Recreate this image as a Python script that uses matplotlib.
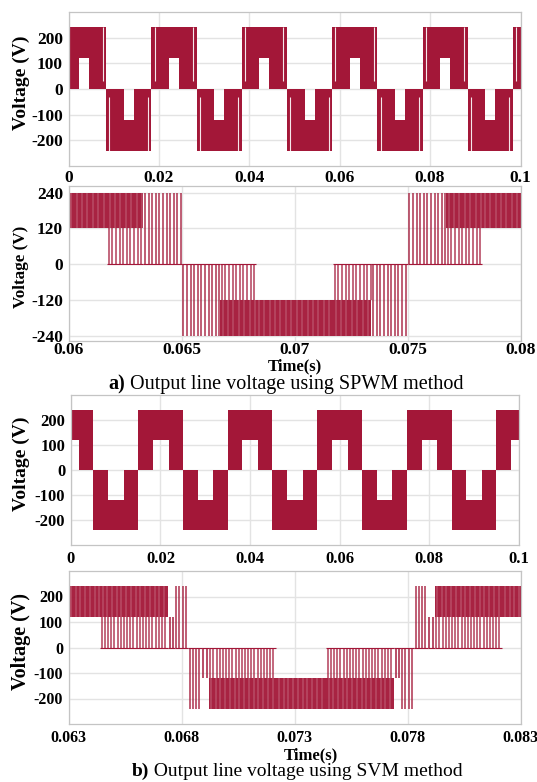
import matplotlib
matplotlib.use("Agg")
import matplotlib.pyplot as plt
import numpy as np

plt.rcParams["font.family"] = ["Liberation Serif", "DejaVu Serif"]

WAVE = "#a31738"
GRID = "#e3e3e3"
SPINE = "#c4c4c4"

# (a) top: SPWM line voltage, 0 - 0.1 s (half-cycle starts and envelope steps)
spwm_pos_starts = [-0.00167, 0.01833, 0.03833, 0.05833, 0.07833, 0.09833]
spwm_neg_starts = [0.00833, 0.02833, 0.04833, 0.06833, 0.08833]
spwm_half_edges = [0.0, 0.0039, 0.0061, 0.01]
spwm_half_kinds = ["full", "upper", "full"]
spwm_white_gaps = [0.0007, 0.0092]

# (a) bottom: SPWM zoom 0.06 - 0.08 s
spwm_zoom_edges = [0.06, 0.0617, 0.0633, 0.065, 0.0667, 0.0683, 0.0717,
                   0.0734, 0.075, 0.0767, 0.0783, 0.08]
spwm_zoom_kinds = ["dense", "split", "sparse", "sparse", "split", "dense",
                   "split", "sparse", "sparse", "split", "dense"]
spwm_zoom_signs = [1, 1, 1, -1, -1, -1, -1, -1, 1, 1, 1]
spwm_pulse_period = 0.00016

# (b) top: SVM line voltage, 0 - 0.1 s
svm_pos_starts = [-0.005, 0.015, 0.035, 0.055, 0.075, 0.095]
svm_neg_starts = [0.005, 0.025, 0.045, 0.065, 0.085]
svm_half_edges = [0.0, 0.0033, 0.0068, 0.01]
svm_half_kinds = ["full", "upper", "full"]

# (b) bottom: SVM zoom 0.063 - 0.083 s
svm_zoom_edges = [0.063, 0.0644, 0.0674, 0.0677, 0.0683, 0.0689, 0.0692, 0.0722,
                  0.0744, 0.0774, 0.0777, 0.0783, 0.0789, 0.0792, 0.0822, 0.083]
svm_zoom_kinds = ["dense", "split", "lower", "sparse", "sparse", "lower", "split",
                  "dense", "split", "lower", "sparse", "sparse", "lower", "split", "dense"]
svm_zoom_signs = [1, 1, 1, 1, -1, -1, -1, -1, -1, -1, -1, 1, 1, 1, 1]
svm_pulse_period = 0.00014

LEVEL_LOW = 120
LEVEL_HIGH = 240

full_xticks = [0, 0.02, 0.04, 0.06, 0.08, 0.1]
full_xlabels = ["0", "0.02", "0.04", "0.06", "0.08", "0.1"]
spwm_xticks = [0.06, 0.065, 0.07, 0.075, 0.08]
spwm_xlabels = ["0.06", "0.065", "0.07", "0.075", "0.08"]
svm_xticks = [0.063, 0.068, 0.073, 0.078, 0.083]
svm_xlabels = ["0.063", "0.068", "0.073", "0.078", "0.083"]
yticks_100 = [-200, -100, 0, 100, 200]
yticks_120 = [-240, -120, 0, 120, 240]

W, H = 537, 782


def px_axes(fig, left, right, top, bottom):
    return fig.add_axes([left / W, 1 - bottom / H, (right - left) / W, (bottom - top) / H])


def style(ax, xticks, xlabels, xlim, yticks, ylim, tick_size, ylab_size, xpad):
    ax.set_xlim(*xlim)
    ax.set_ylim(*ylim)
    ax.set_xticks(xticks, xlabels)
    ax.set_yticks(yticks, [str(v) for v in yticks])
    for lab in ax.get_xticklabels() + ax.get_yticklabels():
        lab.set_fontweight("bold")
        lab.set_fontsize(tick_size)
    ax.tick_params(length=0, pad=xpad, axis="x")
    ax.tick_params(length=0, pad=4, axis="y")
    ax.grid(True, color=GRID, linewidth=1.0)
    ax.set_axisbelow(True)
    for sp in ax.spines.values():
        sp.set_color(SPINE)
        sp.set_linewidth(0.9)
    ax.set_ylabel("Voltage (V)", fontweight="bold", fontsize=ylab_size)
    ax.yaxis.label.set_va("center")


def draw_envelope(ax, pos_starts, neg_starts, edges, kinds, gaps=()):
    for sign, starts in ((1, pos_starts), (-1, neg_starts)):
        for s in starts:
            for a, b, kind in zip(edges[:-1], edges[1:], kinds):
                lo = 0 if kind == "full" else LEVEL_LOW
                ax.fill_between([s + a, s + b], sign * lo, sign * LEVEL_HIGH,
                                color=WAVE, linewidth=0)
            for g in gaps:
                ax.vlines(s + g, sign * 30, sign * LEVEL_HIGH, color="white",
                          linewidth=0.8, alpha=0.9)


def pulse_lines(ax, t0, t1, lo, hi, sign, period, color, lw, alpha):
    ts = np.arange(t0 + period / 2, t1, period)
    ax.vlines(ts, sign * lo, sign * hi, color=color, linewidth=lw, alpha=alpha)


def draw_pulses(ax, edges, kinds, signs, period):
    for a, b, kind, sign in zip(edges[:-1], edges[1:], kinds, signs):
        if kind in ("dense", "split"):
            ax.fill_between([a, b], sign * LEVEL_LOW, sign * LEVEL_HIGH,
                            color=WAVE, linewidth=0, alpha=0.95)
            pulse_lines(ax, a, b, LEVEL_LOW, LEVEL_HIGH, sign, period * 1.5,
                        "white", 0.35, 0.6)
        if kind == "split":
            pulse_lines(ax, a, b, 0, LEVEL_LOW, sign, period, WAVE, 1.15, 0.8)
        if kind == "lower":
            pulse_lines(ax, a, b, 0, LEVEL_LOW, sign, period, WAVE, 1.2, 0.9)
        if kind == "sparse":
            pulse_lines(ax, a, b, 0, LEVEL_HIGH, sign, period, WAVE, 1.15, 0.85)
        if kind in ("split", "lower", "sparse"):
            ax.hlines(0, a, b, color=WAVE, linewidth=0.8)


fig = plt.figure(figsize=(W / 100, H / 100), dpi=100)

ax1 = px_axes(fig, 68.5, 520.5, 12, 166)
draw_envelope(ax1, spwm_pos_starts, spwm_neg_starts, spwm_half_edges, spwm_half_kinds, spwm_white_gaps)
style(ax1, full_xticks, full_xlabels, (0, 0.1), yticks_100, (-300, 300), 12.5, 14, 3)
ax1.yaxis.set_label_coords(-0.105, 0.54)

ax2 = px_axes(fig, 68.5, 520.5, 186, 341)
draw_pulses(ax2, spwm_zoom_edges, spwm_zoom_kinds, spwm_zoom_signs, spwm_pulse_period)
style(ax2, spwm_xticks, spwm_xlabels, (0.06, 0.08), yticks_120, (-258, 262), 12.5, 12.3, 1)
ax2.yaxis.set_label_coords(-0.105, 0.48)
ax2.set_xlabel("Time(s)", fontweight="bold", fontsize=12, labelpad=0)

ax3 = px_axes(fig, 70.9, 518.8, 395, 545)
draw_envelope(ax3, svm_pos_starts, svm_neg_starts, svm_half_edges, svm_half_kinds)
style(ax3, full_xticks, full_xlabels, (0, 0.1), yticks_100, (-300, 300), 12, 14, 4)
ax3.yaxis.set_label_coords(-0.11, 0.54)

ax4 = px_axes(fig, 68.5, 520.5, 571, 724)
draw_pulses(ax4, svm_zoom_edges, svm_zoom_kinds, svm_zoom_signs, svm_pulse_period)
style(ax4, svm_xticks, svm_xlabels, (0.063, 0.083), yticks_100, (-300, 300), 11.5, 14.5, 4)
ax4.yaxis.set_label_coords(-0.105, 0.54)
fig.text(311 / W, 1 - 755 / H, "Time(s)", fontweight="bold", fontsize=12,
         ha="center", va="center")


def caption(x_px, base_px, tag, body, size):
    t = fig.text(x_px / W, 1 - base_px / H, tag, fontweight="bold", fontsize=size,
                 va="baseline", ha="left")
    fig.canvas.draw()
    bb = t.get_window_extent()
    fig.text(bb.x1 / W, 1 - base_px / H, " " + body, fontsize=size,
             va="baseline", ha="left")


caption(108, 389, "a)", "Output line voltage using SPWM method", 14.5)
caption(132, 776, "b)", "Output line voltage using SVM method", 14)

fig.savefig("out.png", dpi=100)
